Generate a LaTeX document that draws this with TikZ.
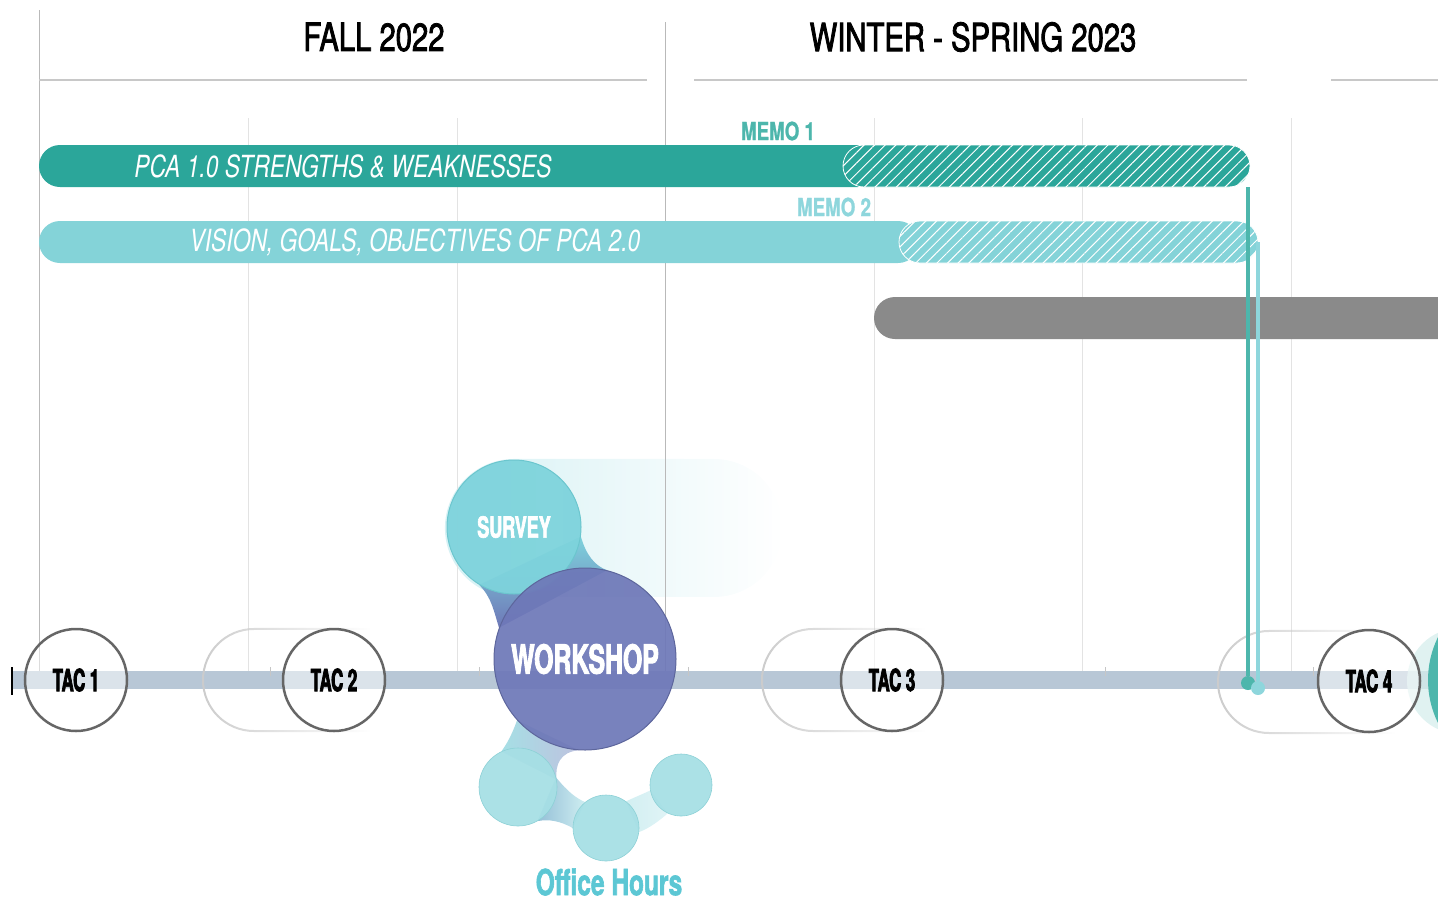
\documentclass[tikz,border=0pt]{standalone}
\usepackage{fontspec}
\setmainfont{TeX Gyre Heros}
\newfontfamily\seasonfont{texgyreheros-regular.otf}[FakeStretch=0.75, FakeBold=2]
\newfontfamily\barfont{texgyreheros-italic.otf}[FakeStretch=0.75]
\newfontfamily\memofont{texgyreheros-bold.otf}[FakeStretch=0.75, FakeBold=1]
\newfontfamily\condfont{texgyreheros-bold.otf}[FakeStretch=0.62, FakeBold=2.2]
\newfontfamily\tacfont{texgyreheros-bold.otf}[FakeStretch=0.55, FakeBold=2.5]
\newfontfamily\ohfont{texgyreheros-bold.otf}[FakeStretch=0.68, FakeBold=1.6]
\usepackage{xcolor}
\usepackage{tikz}
\usetikzlibrary{arrows.meta,positioning,calc,patterns.meta,fadings,backgrounds}

\definecolor{pcateal}{HTML}{2BA69A}
\definecolor{memoteal}{HTML}{4DB6AC}
\definecolor{visteal}{HTML}{84D3D8}
\definecolor{memolight}{HTML}{8ED6DC}
\definecolor{bargray}{HTML}{8A8A8A}
\definecolor{bandblue}{HTML}{B8C7D6}
\definecolor{tacgray}{HTML}{666666}
\definecolor{gridgray}{HTML}{E3E3E3}
\definecolor{rulegray}{HTML}{C8C8C8}
\definecolor{wsblue}{HTML}{6E78B8}
\definecolor{svteal}{HTML}{7ED3DC}
\definecolor{ohfill}{HTML}{A6DFE5}
\definecolor{ohtext}{HTML}{5CC7D4}
\definecolor{halo}{HTML}{D6EEEC}
\definecolor{ghostgray}{HTML}{CCCCCC}

\tikzfading[name=fadeeast, left color=transparent!0, right color=transparent!100]
\tikzfading[name=halofade, left color=transparent!0, middle color=transparent!25, right color=transparent!100]

\begin{document}
\begin{tikzpicture}[x=1pt, y=-1pt, >=Latex]
\tikzstyle{gridline}=[gridgray, line width=1pt]
\tikzstyle{hrule}=[rulegray, line width=1.2pt]
\tikzstyle{season}=[font=\seasonfont\fontsize{39}{39}\selectfont, inner sep=0pt]
\tikzstyle{pill}=[rectangle, rounded corners=21pt, minimum height=42pt, inner sep=0pt, outer sep=0pt, anchor=west]
\tikzstyle{hatch}=[pill, draw=white, line width=0.8pt, pattern={Lines[angle=45, distance=7.5pt, line width=1pt]}, pattern color=white]
\tikzstyle{bartext}=[white, font=\barfont\fontsize{30.5}{30.5}\selectfont, inner sep=0pt]
\tikzstyle{memo}=[font=\memofont\fontsize{25}{25}\selectfont, inner sep=0pt]
\tikzstyle{memoline}=[line width=3.3pt]
\tikzstyle{memodot}=[circle, minimum size=14pt, inner sep=0pt]
\tikzstyle{tac}=[circle, draw=tacgray, line width=2.5pt, minimum size=102pt, inner sep=0pt, fill=white, fill opacity=0.5, text opacity=1, font=\tacfont\fontsize{30.5}{30.5}\selectfont]
\tikzstyle{ghost}=[ghostgray, line width=2pt, rounded corners=51pt, path fading=fadeeast]
\tikzstyle{bubble}=[circle, inner sep=0pt, text=white, text opacity=1, line width=1pt]
\tikzstyle{ohbub}=[circle, inner sep=0pt, fill=ohfill, draw=ohfill!85!teal, line width=0.6pt, fill opacity=0.95]

\useasboundingbox (0,0) rectangle (1438,903);
\clip (0,0) rectangle (1438,903);

% grid and season rules
\draw[gridline, gray!55] (39,10) -- (39,680);
\draw[gridline, gray!55] (665,22) -- (665,680);
\foreach \x in {248,457,874,1082,1291}
  \draw[gridline] (\x,118) -- (\x,680);
\draw[hrule] (39,80) -- (647,80);
\draw[hrule] (694,80) -- (1247,80);
\draw[hrule] (1331,80) -- (1438,80);

\node[season] (fall) at (374,37) {FALL 2022};
\node[season] (winter) at (973,37) {WINTER - SPRING 2023};

% work bars
\node[pill, fill=pcateal, minimum width=840pt] (pca) at (39,166) {};
\node[hatch, preaction={fill=pcateal}, minimum width=407pt] (memo1bar) at (843,166) {};
\node[bartext] (pcatxt) at (343,166) {PCA 1.0 STRENGTHS \& WEAKNESSES};
\node[memo, memoteal] (memo1) at (778,131) {MEMO 1};

\node[pill, fill=visteal, minimum width=880pt] (vision) at (39,242) {};
\node[hatch, preaction={fill=visteal}, minimum width=359pt] (memo2bar) at (899,242) {};
\node[bartext] (vistxt) at (415,242) {VISION, GOALS, OBJECTIVES OF PCA 2.0};
\node[memo, memolight] (memo2) at (834,207) {MEMO 2};

\node[pill, fill=bargray, minimum width=700pt] (next) at (874,318) {};

% timeline
\fill[bandblue] (12,671) rectangle (1438,689);
\draw[black, line width=1.2pt] (12,667) -- (12,695);
\foreach \x in {270,479,688,896,1105,1313}
  \draw[gray!45, line width=1pt] (\x,667) -- (\x,676);

\draw[ghost] (370,629) -- (203,629) -- (203,731) -- (370,731);
\draw[ghost] (925,629) -- (762,629) -- (762,731) -- (925,731);
\draw[ghost] (1395,631) -- (1218,631) -- (1218,733) -- (1395,733);

% memo deadlines
\node[memodot, fill=memoteal] (dot1) at (1248,683) {};
\node[memodot, fill=memolight] (dot2) at (1258,688) {};
\draw[memoline, memoteal] (memo1bar.south east -| dot1) -- (dot1);
\draw[memoline, memolight] (memo2bar.east -| dot2) -- (dot2);

\node[circle, fill=halo, fill opacity=0.75, minimum size=106pt, inner sep=0pt] (haloR) at (1460,681) {};
\node[circle, fill=memoteal, minimum size=194pt, inner sep=0pt] (tac5) at (1525,680) {};

% engagement
\node[bubble, fill=svteal, draw=svteal!85!teal, fill opacity=0.95, minimum size=134pt,
  font=\condfont\fontsize{29}{29}\selectfont] (survey) at (514,527) {SURVEY};
\node[bubble, fill=wsblue, draw=wsblue!85!black, fill opacity=0.93, minimum size=182pt,
  font=\condfont\fontsize{40}{40}\selectfont] (workshop) at (585,659) {WORKSHOP};
\node[ohbub, minimum size=78pt] (oh1) at (518,787) {};
\node[ohbub, minimum size=66pt] (oh2) at (606,828) {};
\node[ohbub, minimum size=62pt] (oh3) at (681,785) {};
\node[ohtext, font=\ohfont\fontsize{36}{36}\selectfont, inner sep=0pt] (ohtxt) at (609,882) {Office Hours};

\node[tac] (tac1) at (76,680) {TAC 1};
\node[tac] (tac2) at (334,680) {TAC 2};
\node[tac] (tac3) at (892,680) {TAC 3};
\node[tac] (tac4) at (1369,681) {TAC 4};

\begin{pgfonlayer}{background}
\fill[svteal!32, path fading=halofade, rounded corners=69pt] (445,459) rectangle (783,597);
\shade[top color=svteal, bottom color=wsblue] (survey.239) .. controls (492,598) and (494,612) .. (workshop.160)
  -- (workshop.76) .. controls (595,566) and (586,555) .. (survey.352) -- cycle;
\shade[left color=ohfill, right color=wsblue!45] (workshop.222) .. controls (512,735) and (506,745) .. (oh1.115)
  -- (oh1.11) .. controls (555,765) and (560,752) .. (workshop.266) -- cycle;
\shade[left color=wsblue!30!ohfill, right color=ohfill!55] (oh1.14) .. controls (568,792) and (576,798) .. (oh2.129)
  -- (oh2.180) .. controls (560,821) and (550,819) .. (oh1.300) -- cycle;
\shade[left color=ohfill!50, right color=ohfill!35] (oh2.53) .. controls (635,797) and (643,794) .. (oh3.190)
  -- (oh3.245) .. controls (660,820) and (650,828) .. (oh2.353) -- cycle;
\end{pgfonlayer}
\end{tikzpicture}
\end{document}
